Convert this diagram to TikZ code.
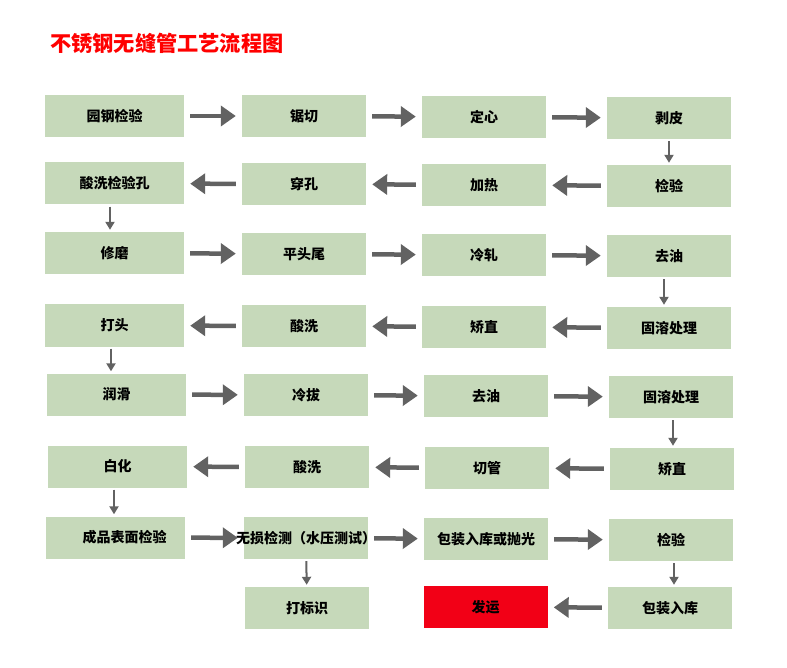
\documentclass[tikz,border=0pt]{standalone}
\usepackage{fontspec}
\newfontfamily\cjk{Noto Sans CJK SC}
\usetikzlibrary{arrows.meta}
\definecolor{boxgreen}{RGB}{198,217,186}
\definecolor{arrowgray}{RGB}{98,98,98}
\definecolor{shipred}{RGB}{242,0,22}
\tikzset{
  box/.style={fill=boxgreen, minimum height=42pt, inner sep=0pt,
    font=\cjk\bfseries\fontsize{14}{16}\selectfont},
  wide/.style={box, minimum width=139pt},
  narrow/.style={box, minimum width=124pt},
  heading/.style={text=red, inner sep=0pt, font=\cjk\bfseries\fontsize{21.2}{24}\selectfont},
  flow/.style={-{Triangle[length=15pt,width=20pt]}, line width=4.5pt, draw=arrowgray,
    shorten <=6pt, shorten >=6pt},
  down/.style={-{Triangle[length=8pt,width=9pt]}, line width=2pt, draw=arrowgray,
    shorten <=2pt, shorten >=2pt},
}

\begin{document}
\begin{tikzpicture}[x=1pt, y=-1pt]
        \useasboundingbox (0,0) rectangle (787,668);

        % title
        \node[heading, anchor=west] (title) at (50,43) {不锈钢无缝管工艺流程图};

        % steps
        \node[wide]   (a1) at (114.5,116) {园钢检验};
        \node[narrow] (a2) at (304,116) {锯切};
        \node[narrow] (a3) at (484,117) {定心};
        \node[narrow] (a4) at (669,118) {剥皮};

        \node[wide]   (b1) at (114.5,183.5) {酸洗检验孔};
        \node[narrow] (b2) at (304,184) {穿孔};
        \node[narrow] (b3) at (484,185) {加热};
        \node[narrow] (b4) at (669,186) {检验};

        \node[wide]   (c1) at (114.5,253) {修磨};
        \node[narrow] (c2) at (304,254) {平头尾};
        \node[narrow] (c3) at (484,255) {冷轧};
        \node[narrow] (c4) at (669,256) {去油};

        \node[wide]   (d1) at (114.5,325.5) {打头};
        \node[narrow] (d2) at (304,326) {酸洗};
        \node[narrow] (d3) at (484,327) {矫直};
        \node[narrow] (d4) at (669,328) {固溶处理};

        \node[wide]   (e1) at (116.5,394.5) {润滑};
        \node[narrow] (e2) at (306,395) {冷拔};
        \node[narrow] (e3) at (486,396) {去油};
        \node[narrow] (e4) at (671,397) {固溶处理};

        \node[wide]   (f1) at (117.5,466.5) {白化};
        \node[narrow] (f2) at (307,467) {酸洗};
        \node[narrow] (f3) at (487,468) {切管};
        \node[narrow] (f4) at (672,469) {矫直};

        \node[wide]   (g1) at (115.5,537.5) {\hspace{18pt}成品表面检验};
        \node[narrow] (g2) at (306,538) {\makebox[110pt][c]{无损检测（水压测试）}};
        \node[narrow] (g3) at (486,539) {包装入库或抛光};
        \node[narrow] (g4) at (671,540) {检验};

        \node[narrow]              (h2) at (307,608) {打标识};
        \node[narrow, fill=shipred] (h3) at (485.5,607) {发运};
        \node[narrow]              (h4) at (670,608) {包装入库};

        % transitions
        \draw (a1) edge[flow] (a2)
              (a2) edge[flow] (a3)
              (a3) edge[flow] (a4)
              (a4) edge[down] (b4)
              (b4) edge[flow] (b3)
              (b3) edge[flow] (b2)
              (b2) edge[flow] (b1)
              ([xshift=-4.5pt]b1.south) edge[down] ([xshift=-4.5pt]b1.south |- c1.north)
              (c1) edge[flow] (c2)
              (c2) edge[flow] (c3)
              (c3) edge[flow] (c4)
              ([xshift=-5pt]c4.south) edge[down] ([xshift=-5pt]c4.south |- d4.north)
              (d4) edge[flow] (d3)
              (d3) edge[flow] (d2)
              (d2) edge[flow] (d1)
              ([xshift=-3.5pt]d1.south) edge[down] ([xshift=-3.5pt]d1.south |- e1.north)
              (e1) edge[flow] (e2)
              (e2) edge[flow] (e3)
              (e3) edge[flow] (e4)
              ([xshift=2pt]e4.south) edge[down] ([xshift=2pt]e4.south |- f4.north)
              (f4) edge[flow] (f3)
              (f3) edge[flow] (f2)
              (f2) edge[flow] (f1)
              ([xshift=-3.5pt]f1.south) edge[down] ([xshift=-3.5pt]f1.south |- g1.north)
              (g1) edge[flow] (g2)
              (g2) edge[flow] (g3)
              (g3) edge[flow] (g4)
              (g2) edge[down] (h2)
              ([xshift=3pt]g4.south) edge[down] ([xshift=3pt]g4.south |- h4.north)
              (h4) edge[flow] (h3);
      \end{tikzpicture}
\end{document}
